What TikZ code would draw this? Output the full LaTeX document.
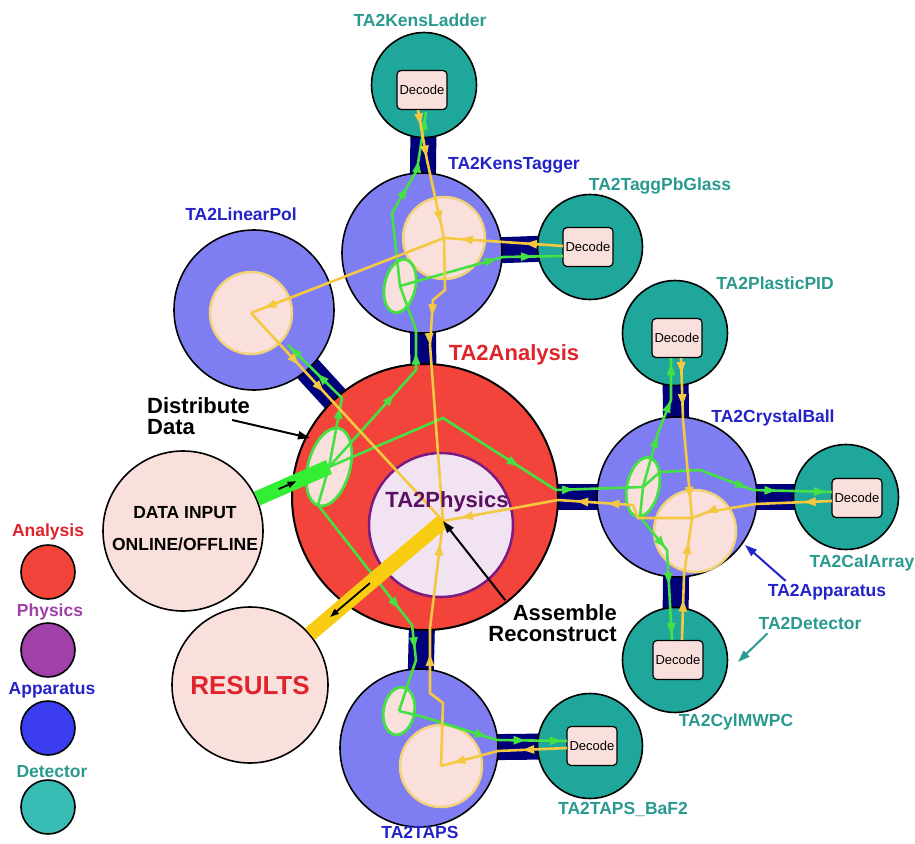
\documentclass[tikz,border=0pt]{standalone}
\usepackage{fontspec}
\setmainfont{Liberation Sans}
\usetikzlibrary{arrows.meta,shapes.geometric,decorations.markings}
\definecolor{AnRed}     {HTML}{F2443A}
\definecolor{PhFill}    {HTML}{F1E3F1}
\definecolor{PhEdge}    {HTML}{7A1A82}
\definecolor{AppBlue}   {HTML}{7E7EF2}
\definecolor{DetTeal}   {HTML}{1FA79C}
\definecolor{Navy}      {HTML}{00007A}
\definecolor{Pale}      {HTML}{F9E0DC}
\definecolor{CoreEdge}  {HTML}{F2D27A}
\definecolor{GreenLine} {HTML}{44E044}
\definecolor{GoldLine}  {HTML}{F5C842}
\definecolor{GreenFat}  {HTML}{33EE33}
\definecolor{GoldFat}   {HTML}{F8CC10}
\definecolor{RedText}   {HTML}{E0242C}
\definecolor{BlueText}  {HTML}{2323C8}
\definecolor{TealText}  {HTML}{2A9A90}
\definecolor{PurpText}  {HTML}{5A1060}
\definecolor{LgPhys}    {HTML}{A040A8}
\definecolor{LgApp}     {HTML}{3C3CF0}
\definecolor{LgDet}     {HTML}{38BDB5}
\pgfdeclarelayer{bg}
\pgfsetlayers{bg,main}

\begin{document}
\begin{tikzpicture}[x=1pt,y=-1pt,
    ball/.style={circle,draw=black,line width=1.6pt,inner sep=0pt,minimum size=#1},
    appball/.style={ball=160pt,fill=AppBlue},
    detball/.style={ball=105pt,fill=DetTeal},
    core/.style={circle,inner sep=0pt,minimum size=82pt,fill=Pale,draw=CoreEdge,line width=2.5pt},
    decode/.style={draw=black,line width=1.2pt,fill=Pale,rounded corners=4pt,minimum width=50pt,
                   minimum height=39pt,inner sep=0pt,font=\fontsize{13}{13}\selectfont},
    sorter/.style={ellipse,draw=GreenLine,line width=2.8pt,fill=Pale,inner sep=0pt},
    link/.style={draw=Navy,line width=26pt},
    gflow/.style={draw=GreenLine,line width=2.6pt},
    yflow/.style={draw=GoldLine,line width=2.6pt},
    mtip/.style={postaction={decorate,decoration={markings,
                 mark=at position #1 with {\arrow{Triangle[length=12pt,width=8pt]}}}}},
    lab/.style={font=\bfseries\fontsize{17.5}{18}\selectfont,inner sep=0pt},
    note/.style={font=\bfseries\fontsize{22}{21}\selectfont,inner sep=0pt},
    pointer/.style={-{Triangle[length=12pt,width=8pt]},line width=2pt}]
  \useasboundingbox (0,0) rectangle (915,843);

  % analysis and physics
  \node[ball=266pt,fill=AnRed,line width=2pt] (an) at (425,497) {};
  \node[circle,inner sep=0pt,minimum size=144pt,fill=PhFill,draw=PhEdge,line width=2.5pt] (ph) at (441,525) {};
  \coordinate (pc) at (443,521);

  % apparatus
  \node[appball] (kt) at (422,253) {};
  \node[core] (ktc) at (444,238) {};
  \node[appball] (lp) at (254,310) {};
  \node[core] (lpc) at (251,313) {};
  \node[appball] (cb) at (677,497) {};
  \node[core] (cbc) at (695,531) {};
  \node[appball,minimum size=158pt] (tp) at (419,748) {};
  \node[core] (tpc) at (441,766) {};

  % detectors
  \node[detball] (kl) at (424,85) {};
  \node[decode] (dkl) at (422,90) {Decode};
  \node[detball] (pb) at (590,247) {};
  \node[decode] (dpb) at (588,247) {Decode};
  \node[detball] (pid) at (675,333) {};
  \node[decode] (dpid) at (677,338) {Decode};
  \node[detball] (ca) at (846,497) {};
  \node[decode] (dca) at (857,498) {Decode};
  \node[detball] (cy) at (675,660) {};
  \node[decode] (dcy) at (678,660) {Decode};
  \node[detball] (bf) at (590,746) {};
  \node[decode] (dbf) at (592,746) {Decode};

  % input / output
  \node[ball=160pt,fill=Pale] (di) at (183,531) {};
  \node[ball=156pt,fill=Pale] (rs) at (250,685) {};

  \begin{pgfonlayer}{bg}
    \fill[white] (0,0) rectangle (915,843);
    \draw[link] (kl.center) -- (kt.center);
    \draw[link] (pb.center) -- (kt.center);
    \draw[link] (kt.center) -- (an.center);
    \draw[link,line width=28pt] (lp.center) -- (an.center);
    \draw[link] (an.center) -- (cb.center);
    \draw[link] (pid.center) -- (cb.center);
    \draw[link] (ca.center) -- (cb.center);
    \draw[link] (cy.center) -- (cb.center);
    \draw[link] (an.center) -- (tp.center);
    \draw[link] (bf.center) -- (tp.center);
  \end{pgfonlayer}

  % sorting ellipses
  \node[sorter,minimum width=42pt,minimum height=80pt,rotate=-15] (ean) at (329,467) {};
  \node[sorter,minimum width=31pt,minimum height=54pt,rotate=-12] (ekt) at (400,286) {};
  \node[sorter,minimum width=32pt,minimum height=60pt,rotate=-12] (ecb) at (643,487) {};
  \node[sorter,minimum width=31pt,minimum height=48pt,rotate=-10] (etp) at (399,711) {};

  % distribute (green)
  \draw[gflow,mtip=0.45,mtip=0.68] (ean.center) -- (416,370) -- (416,330) -- (ekt.center);
  \draw[gflow,mtip=0.42,mtip=0.72,mtip=0.98] (ean.center) -- (342,398) -- (288,345);
  \draw[gflow,mtip=0.62,mtip=0.8] (ean.center) -- (443,418) -- (556,490) -- (ecb.center);
  \draw[gflow,mtip=0.61,mtip=0.77] (ean.center) -- (318,505) -- (412,625) -- (416,660) -- (etp.center);
  \draw[gflow,mtip=0.57,mtip=0.73,mtip=0.97] (ekt.center) -- (392,213) -- (417,170) -- (426,112);
  \draw[gflow,mtip=0.6,mtip=0.82] (ekt.center) -- (503,257) -- (563,256);
  \draw[gflow,mtip=0.4,mtip=0.68,mtip=0.96] (ecb.center) -- (658,433) -- (671,400) -- (671,358);
  \draw[gflow,mtip=0.57,mtip=0.72,mtip=0.97] (ecb.center) -- (660,472) -- (700,470) -- (753,490) -- (832,492);
  \draw[gflow,mtip=0.43,mtip=0.66,mtip=0.97] (ecb.center) -- (640,517) -- (667,550) -- (672,640);
  \draw[gflow,mtip=0.53,mtip=0.76,mtip=0.97] (etp.center) -- (420,716) -- (497,740) -- (567,741);

  % assemble (yellow)
  \draw[yflow,mtip=0.12,mtip=0.37,mtip=0.88] (418,110) -- (427,160) -- (ktc.center);
  \draw[yflow,mtip=0.32,mtip=0.86] (563,246) -- (ktc.center);
  \draw[yflow,mtip=0.93] (ktc.center) -- (lpc.center);
  \draw[yflow,mtip=0.29,mtip=0.39] (ktc.center) -- (445,290) -- (433,300) -- (430,345) -- (pc);
  \draw[yflow,mtip=0.25,mtip=0.38] (lpc.center) -- (pc);
  \draw[yflow,mtip=0.1,mtip=0.3,mtip=0.88] (681,358) -- (683,420) -- (692,518);
  \draw[yflow,mtip=0.2,mtip=0.9] (832,501) -- (755,504) -- (708,512) -- (692,518);
  \draw[yflow,mtip=0.33,mtip=0.8] (682,640) -- (684,575) -- (692,518);
  \draw[yflow,mtip=0.36,mtip=0.48,mtip=0.93] (692,518) -- (638,518) -- (633,505) -- (558,500) -- (pc);
  \draw[yflow,mtip=0.35,mtip=0.9] (567,748) -- (498,751) -- (tpc.center);
  \draw[yflow,mtip=0.47,mtip=0.91] (tpc.center) -- (443,703) -- (430,693) -- (430,628) -- (pc);

  % data in, results out
  \draw[GreenFat,line width=15pt] (di) -- (ean.center)
    coordinate[pos=0.3] (din1) coordinate[pos=0.55] (din2);
  \draw[pointer,line width=1.8pt,-{Triangle[length=9pt,width=6pt]}] (din1) -- (din2);
  \draw[GoldFat,line width=15pt] (pc) -- (rs)
    coordinate[pos=0.55] (rso1) coordinate[pos=0.85] (rso2);
  \draw[pointer,line width=1.8pt,-{Triangle[length=9pt,width=6pt]}] (rso1) -- (rso2);

  % texts
  \node[font=\bfseries\fontsize{22}{22}\selectfont,text=PurpText] (tph) at (447,502) {TA2Physics};
  \node[font=\bfseries\fontsize{22}{22}\selectfont,text=RedText] (tan) at (514,355) {TA2Analysis};
  \node[font=\bfseries\fontsize{17.5}{32}\selectfont,align=center] (tdi) at (185,529) {DATA INPUT\\ONLINE/OFFLINE};
  \node[font=\bfseries\fontsize{26}{26}\selectfont,text=RedText] (trs) at (250,686) {RESULTS};
  \node[lab,text=TealText] (tkl) at (420,20) {TA2KensLadder};
  \node[lab,text=BlueText] (tkt) at (514,165) {TA2KensTagger};
  \node[lab,text=TealText] (tpb) at (660,186) {TA2TaggPbGlass};
  \node[lab,text=BlueText] (tlp) at (241,214) {TA2LinearPol};
  \node[lab,text=TealText] (tpid) at (775,283) {TA2PlasticPID};
  \node[lab,text=BlueText] (tcb) at (773,418) {TA2CrystalBall};
  \node[lab,text=TealText] (tca) at (862,563) {TA2CalArray};
  \node[lab,text=TealText] (tcy) at (736,722) {TA2CylMWPC};
  \node[lab,text=TealText] (tbf) at (623,809) {TA2TAPS\_BaF2};
  \node[lab,text=BlueText] (ttp) at (420,832) {TA2TAPS};
  \node[lab,text=BlueText] (tapp) at (827,592) {TA2Apparatus};
  \node[lab,text=TealText] (tdet) at (810,623) {TA2Detector};
  \node[note,align=left,anchor=west] (tdist) at (147,416) {Distribute\\Data};
  \node[note,align=right,anchor=east] (tasm) at (617,623) {Assemble\\Reconstruct};

  % pointers
  \coordinate (appTip) at (745,545);
  \coordinate (detTip) at (738,662);
  \coordinate (distTip) at (310,438);
  \draw[pointer,BlueText] ([xshift=18pt,yshift=3pt]tapp.north west) -- (appTip);
  \draw[pointer,TealText] ([xshift=9pt,yshift=-4pt]tdet.south west) -- (detTip);
  \draw[pointer] ([xshift=-18pt,yshift=-4pt]tdist.east) -- (distTip);
  \draw[pointer] ([xshift=17pt,yshift=4pt]tasm.north west) -- (pc);

  % legend
  \node[lab,text=RedText] (lgan) at (48,532) {Analysis};
  \node[ball=54pt,fill=AnRed] (lgan0) at (48,572) {};
  \node[lab,text=LgPhys] (lgph) at (50,612) {Physics};
  \node[ball=54pt,fill=LgPhys] (lgph0) at (48,650) {};
  \node[lab,text=BlueText] (lgap) at (52,690) {Apparatus};
  \node[ball=54pt,fill=LgApp] (lgap0) at (48,728) {};
  \node[lab,text=TealText] (lgde) at (52,772) {Detector};
  \node[ball=54pt,fill=LgDet] (lgde0) at (48,807) {};
\end{tikzpicture}
\end{document}
